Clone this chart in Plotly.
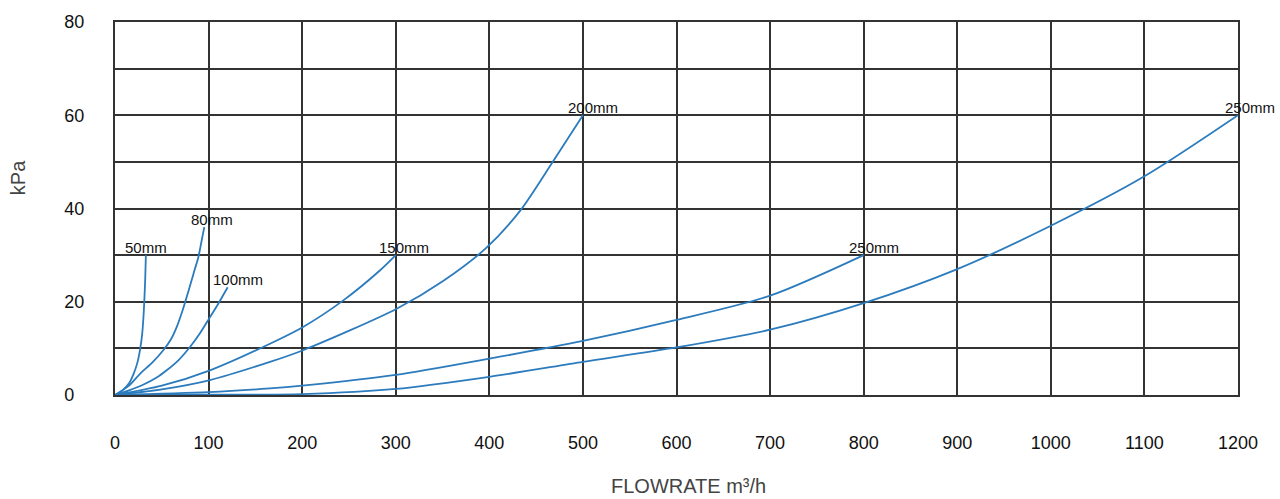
import plotly.graph_objects as go

# Pressure loss curves (flowrate m³/h vs kPa)
x_50 = [0, 8, 15, 20, 24, 27, 29, 30.5, 31.5, 32.3, 33]
y_50 = [0, 1, 2.5, 4.6, 7, 10, 13, 17, 21, 25, 30]

x_80 = [0, 15, 27, 40, 51.6, 60, 66, 72, 76.6, 81, 85, 89, 92, 95.4]
y_80 = [0, 2, 4.6, 7, 9.6, 12, 14.6, 18, 21, 24, 26.8, 29.5, 32.5, 36]

x_100 = [0, 15, 30, 45, 55.2, 68, 80.1, 91, 101.5, 111, 120.4]
y_100 = [0, 1, 2.2, 3.8, 5.3, 7.5, 10.3, 13.3, 16.7, 19.8, 23.1]

x_150 = [0, 50, 101.5, 165.6, 201, 244, 283, 300]
y_150 = [0, 2.0, 5.3, 11.0, 14.6, 20.3, 26.7, 30]

x_200 = [0, 50, 101.5, 165.6, 201, 301, 351, 397, 432.8, 468, 500]
y_200 = [0, 1.2, 3.2, 7.1, 9.6, 18.5, 24.5, 31.6, 39.5, 50.1, 60]

x_250a = [0, 100, 165.6, 200, 300, 400, 500, 600, 700, 800]
y_250a = [0, 0.6, 1.4, 2.0, 4.3, 7.8, 11.6, 16.1, 21.3, 30]

x_250b = [0, 100, 200, 300, 400, 500, 600, 700, 800, 900, 1000, 1100, 1200]
y_250b = [0, 0.05, 0.2, 1.3, 3.9, 7.1, 10.2, 14.0, 19.7, 27.0, 36.3, 46.9, 60]

labels = ["50mm", "80mm", "100mm", "150mm", "200mm", "250mm", "250mm"]
label_shift = [0, 8, 10, 8, 10, 10, 12]

y_ticks = [0, 20, 40, 60, 80]
y_ticktext = ["0\u2007", "20", "40", "60", "80"]
x_ticks = list(range(0, 1201, 100))

series = [(x_50, y_50), (x_80, y_80), (x_100, y_100), (x_150, y_150),
          (x_200, y_200), (x_250a, y_250a), (x_250b, y_250b)]

LINE = "#2b7bbd"
GRID = "#333333"
FONT = "Liberation Sans, Arial"

fig = go.Figure()
for (xs, ys), lab, sh in zip(series, labels, label_shift):
    fig.add_trace(go.Scatter(x=xs, y=ys, mode="lines",
                             line=dict(color=LINE, width=1.8, shape="spline", smoothing=0.8),
                             showlegend=False, hoverinfo="skip"))
    fig.add_annotation(x=xs[-1], y=ys[-1], text=lab, showarrow=False, xanchor="center", yanchor="bottom",
                       xshift=sh, yshift=-3, font=dict(family=FONT, size=15, color="#111"))

fig.add_annotation(xref="paper", yref="paper", x=(688 - 115) / (1238 - 115), y=(395 - 486) / (395 - 20),
                   text="FLOWRATE m³/h", showarrow=False, xanchor="center", yanchor="middle",
                   font=dict(family=FONT, size=20, color="#444"))
fig.add_annotation(xref="paper", yref="paper", x=(18 - 115) / (1238 - 115), y=(395 - 177) / (395 - 20),
                   text="kPa", textangle=-90, showarrow=False, xanchor="center", yanchor="middle",
                   font=dict(family=FONT, size=20, color="#444"))

fig.update_layout(
    width=1280, height=499,
    margin=dict(l=115, r=42, t=20, b=104),
    plot_bgcolor="white", paper_bgcolor="white",
    font=dict(family=FONT, size=18, color="#111"),
)
fig.update_xaxes(range=[0, 1200], tickvals=x_ticks, showgrid=True, gridcolor=GRID, gridwidth=2,
                 showline=True, linecolor=GRID, linewidth=2, mirror=True, zeroline=False,
                 ticks="", ticklabelstandoff=30, tickfont=dict(size=18, color="#111"))
fig.update_yaxes(range=[0, 80], tickvals=y_ticks, ticktext=y_ticktext, showgrid=True, gridcolor=GRID, gridwidth=2,
                 minor=dict(dtick=10, showgrid=True, gridcolor=GRID, gridwidth=2),
                 showline=True, linecolor=GRID, linewidth=2, mirror=True, zeroline=False,
                 ticks="", ticklabelstandoff=25, tickfont=dict(size=18, color="#111"))

fig.write_html("out.html", config={"displayModeBar": False, "staticPlot": True})

# remove default body margin so the figure sits at the window's top-left corner
with open("out.html", "r", encoding="utf-8") as f:
    html = f.read()
html = html.replace("<body>", '<body style="margin:0;overflow:hidden">', 1)
with open("out.html", "w", encoding="utf-8") as f:
    f.write(html)
